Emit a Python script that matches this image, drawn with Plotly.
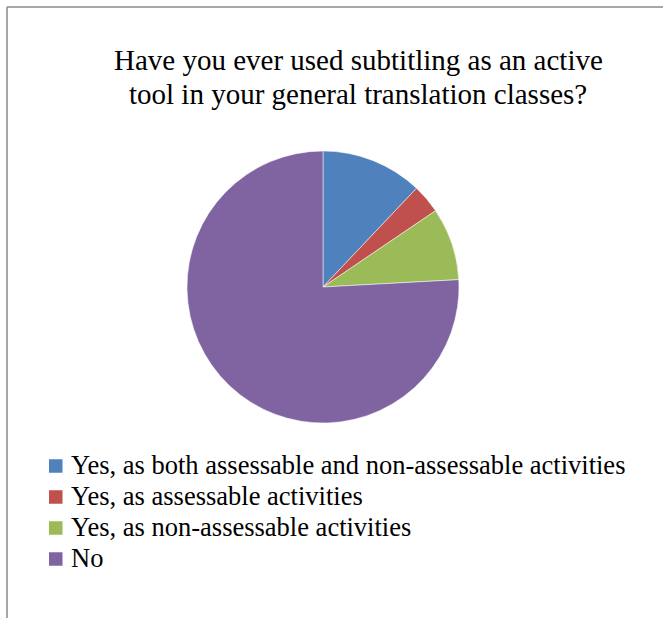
import plotly.graph_objects as go

labels = [
    "Yes, as both assessable and non-assessable activities",
    "Yes, as assessable activities",
    "Yes, as non-assessable activities",
    "No",
]
values = [7, 2, 5, 44]
colors = ["#4F81BD", "#C0504D", "#9BBB59", "#8064A2"]
title_lines = ["Have you ever used subtitling as an active", "tool in your general translation classes?"]

W, H = 663, 618
cx, cy, r = 323, 287, 136
FONT = "Liberation Serif"

fig = go.Figure(go.Pie(
    labels=labels,
    values=values,
    sort=False,
    direction="clockwise",
    rotation=0,
    textinfo="none",
    marker=dict(colors=colors, line=dict(color="white", width=0.5)),
    domain=dict(x=[(cx - r) / W, (cx + r) / W], y=[1 - (cy + r) / H, 1 - (cy - r) / H]),
    showlegend=False,
))

# title, one annotation per line
title_y = [60, 94]
for line, ty in zip(title_lines, title_y):
    fig.add_annotation(
        text=line, x=358 / W, y=1 - ty / H, xref="paper", yref="paper",
        xanchor="center", yanchor="middle", showarrow=False,
        font=dict(family=FONT, size=29, color="black"),
    )

# legend drawn from labels / colors
leg_y0, leg_dy, sq = 466, 31, 13.5
for i, (lab, col) in enumerate(zip(labels, colors)):
    yc = leg_y0 + i * leg_dy
    fig.add_shape(type="rect", xref="paper", yref="paper",
                  x0=49 / W, x1=(49 + sq) / W,
                  y0=1 - (yc + sq / 2) / H, y1=1 - (yc - sq / 2) / H,
                  fillcolor=col, line=dict(width=0))
    fig.add_annotation(
        text=lab, x=69 / W, y=1 - (yc - 1) / H, xref="paper", yref="paper",
        xanchor="left", yanchor="middle", showarrow=False,
        font=dict(family=FONT, size=26.5, color="black"),
    )

# border lines
fig.add_shape(type="line", xref="paper", yref="paper", x0=7 / W, x1=7 / W, y0=0, y1=1 - 7 / H,
              line=dict(color="#8a8a8a", width=1.5))
fig.add_shape(type="line", xref="paper", yref="paper", x0=7 / W, x1=1, y0=1 - 7 / H, y1=1 - 7 / H,
              line=dict(color="#8a8a8a", width=1.5))

fig.update_layout(
    width=W, height=H,
    margin=dict(l=0, r=0, t=0, b=0),
    paper_bgcolor="white", plot_bgcolor="white",
)

fig.write_html("out.html")
